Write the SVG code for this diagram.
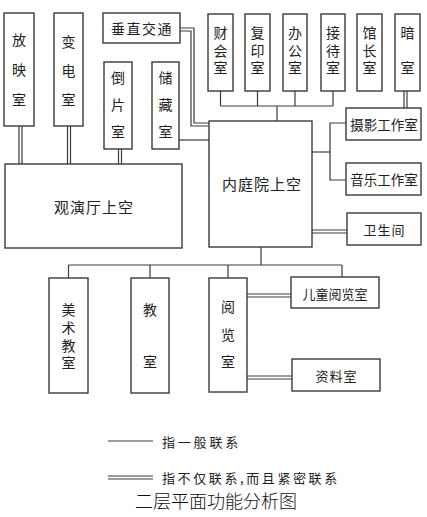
<svg xmlns="http://www.w3.org/2000/svg" width="427" height="517" viewBox="0 0 427 517">
<style>
.box{fill:#fff;stroke:#3a3a3a;stroke-width:1.4}
.ln{fill:none;stroke:#3a3a3a;stroke-width:1.2}
text{font-family:"Noto Sans CJK SC","Noto Sans CJK JP",sans-serif;fill:#222;text-anchor:middle;dominant-baseline:central}
.v{font-size:14px;writing-mode:vertical-rl;text-anchor:start}
.t14{font-size:14px}
.t13{font-size:13px}
.t15{font-size:15px;letter-spacing:1px}
.lg{font-size:13px;text-anchor:start;letter-spacing:2.8px}
.cap{font-size:18px;font-weight:300;fill:#111}
</style>
<rect width="427" height="517" fill="#fff"/>
<g id="connectors">
  <line class="ln" x1="19" y1="126" x2="19" y2="164"/><line class="ln" x1="22" y1="126" x2="22" y2="164"/>
  <line class="ln" x1="67.5" y1="126" x2="67.5" y2="164"/><line class="ln" x1="70.5" y1="126" x2="70.5" y2="164"/>
  <line class="ln" x1="118.5" y1="149" x2="118.5" y2="164"/><line class="ln" x1="121.5" y1="149" x2="121.5" y2="164"/>
  <polyline class="ln" points="180,28 194,28 194,123 209,123"/>
  <polyline class="ln" points="180,31 191,31 191,126 209,126"/>
  <line class="ln" x1="179" y1="140" x2="209" y2="140"/>
  <line class="ln" x1="220.5" y1="91" x2="220.5" y2="106"/>
  <line class="ln" x1="257.5" y1="91" x2="257.5" y2="106"/>
  <line class="ln" x1="295" y1="91" x2="295" y2="106"/>
  <line class="ln" x1="333" y1="91" x2="333" y2="106"/>
  <line class="ln" x1="220.5" y1="106" x2="333" y2="106"/>
  <line class="ln" x1="277" y1="106" x2="277" y2="121"/>
  <line class="ln" x1="404" y1="91" x2="404" y2="108"/><line class="ln" x1="407" y1="91" x2="407" y2="108"/>
  <line class="ln" x1="312" y1="152" x2="330" y2="152"/>
  <polyline class="ln" points="346,123 330,123 330,180 346,180"/>
  <line class="ln" x1="312" y1="230" x2="347" y2="230"/><line class="ln" x1="312" y1="233" x2="347" y2="233"/>
  <line class="ln" x1="261" y1="247" x2="261" y2="265"/>
  <line class="ln" x1="68.5" y1="265" x2="342" y2="265"/>
  <line class="ln" x1="68.5" y1="265" x2="68.5" y2="278"/>
  <line class="ln" x1="150" y1="265" x2="150" y2="278"/>
  <line class="ln" x1="228" y1="265" x2="228" y2="278"/>
  <line class="ln" x1="342" y1="265" x2="342" y2="277"/>
  <line class="ln" x1="247" y1="294" x2="291" y2="294"/><line class="ln" x1="247" y1="297" x2="291" y2="297"/>
  <line class="ln" x1="247" y1="376" x2="292" y2="376"/><line class="ln" x1="247" y1="379" x2="292" y2="379"/>
</g>
<g id="fangying"><rect class="box" x="4" y="13" width="30" height="113"/><text class="v" x="19" y="33" style="letter-spacing:16px">放映室</text></g>
<g id="biandian"><rect class="box" x="54" y="13" width="29" height="113"/><text class="v" x="68.5" y="35" style="letter-spacing:15px">变电室</text></g>
<g id="chuizhi"><rect class="box" x="103" y="13" width="77" height="30"/><text class="t14" x="142" y="28" style="letter-spacing:1.5px">垂直交通</text></g>
<g id="daopian"><rect class="box" x="104" y="62" width="28" height="87"/><text class="v" x="118" y="71" style="letter-spacing:13px">倒片室</text></g>
<g id="chucang"><rect class="box" x="152" y="62" width="27" height="87"/><text class="v" x="165.5" y="71" style="letter-spacing:13px">储藏室</text></g>
<g id="guanyan"><rect class="box" x="5" y="164" width="177" height="84"/><text class="t15" x="94" y="206">观演厅上空</text></g>
<g id="caihui"><rect class="box" x="208" y="14" width="25" height="77"/><text class="v" x="220.5" y="26" style="letter-spacing:3.5px">财会室</text></g>
<g id="fuyin"><rect class="box" x="245" y="14" width="25" height="77"/><text class="v" x="257.5" y="26" style="letter-spacing:3.5px">复印室</text></g>
<g id="bangong"><rect class="box" x="283" y="14" width="24" height="77"/><text class="v" x="295" y="26" style="letter-spacing:3.5px">办公室</text></g>
<g id="jiedai"><rect class="box" x="321" y="14" width="24" height="77"/><text class="v" x="333" y="26" style="letter-spacing:3.5px">接待室</text></g>
<g id="guanzhang"><rect class="box" x="357" y="14" width="25" height="77"/><text class="v" x="369.5" y="26" style="letter-spacing:3.5px">馆长室</text></g>
<g id="anshi"><rect class="box" x="395" y="14" width="25" height="77"/><text class="v" x="407.5" y="26" style="letter-spacing:21px">暗室</text></g>
<g id="neiting"><rect class="box" x="209" y="121" width="103" height="126"/><text class="t15" x="262" y="183">内庭院上空</text></g>
<g id="sheying"><rect class="box" x="346" y="108" width="75" height="32"/><text class="t13" x="384" y="124" style="font-size:13.5px">摄影工作室</text></g>
<g id="yinyue"><rect class="box" x="346" y="163" width="75" height="32"/><text class="t13" x="384" y="179" style="font-size:13.5px">音乐工作室</text></g>
<g id="weisheng"><rect class="box" x="347" y="213" width="74" height="32"/><text class="t13" x="384.5" y="229" style="letter-spacing:1px">卫生间</text></g>
<g id="meishu"><rect class="box" x="49" y="278" width="39" height="115"/><text class="v" x="68.5" y="303" style="letter-spacing:3.7px">美术教室</text></g>
<g id="jiaoshi"><rect class="box" x="131" y="278" width="38" height="115"/><text class="v" x="150" y="303" style="letter-spacing:38px">教室</text></g>
<g id="yuelan"><rect class="box" x="209" y="278" width="38" height="114"/><text class="v" x="228" y="300" style="letter-spacing:13.5px">阅览室</text></g>
<g id="ertong"><rect class="box" x="291" y="277" width="88" height="31"/><text class="t13" x="335" y="293">儿童阅览室</text></g>
<g id="ziliao"><rect class="box" x="292" y="359" width="88" height="32"/><text class="t13" x="336.5" y="375" style="letter-spacing:1px">资料室</text></g>
<g id="legend">
  <line class="ln" x1="108" y1="441" x2="153" y2="441"/>
  <text class="lg" x="162" y="441">指一般联系</text>
  <line class="ln" x1="108" y1="476" x2="153" y2="476"/><line class="ln" x1="108" y1="479" x2="153" y2="479"/>
  <text class="lg" x="162" y="477" style="letter-spacing:2.6px">指不仅联系,而且紧密联系</text>
  <text class="cap" x="216" y="500">二层平面功能分析图</text>
</g>
</svg>
